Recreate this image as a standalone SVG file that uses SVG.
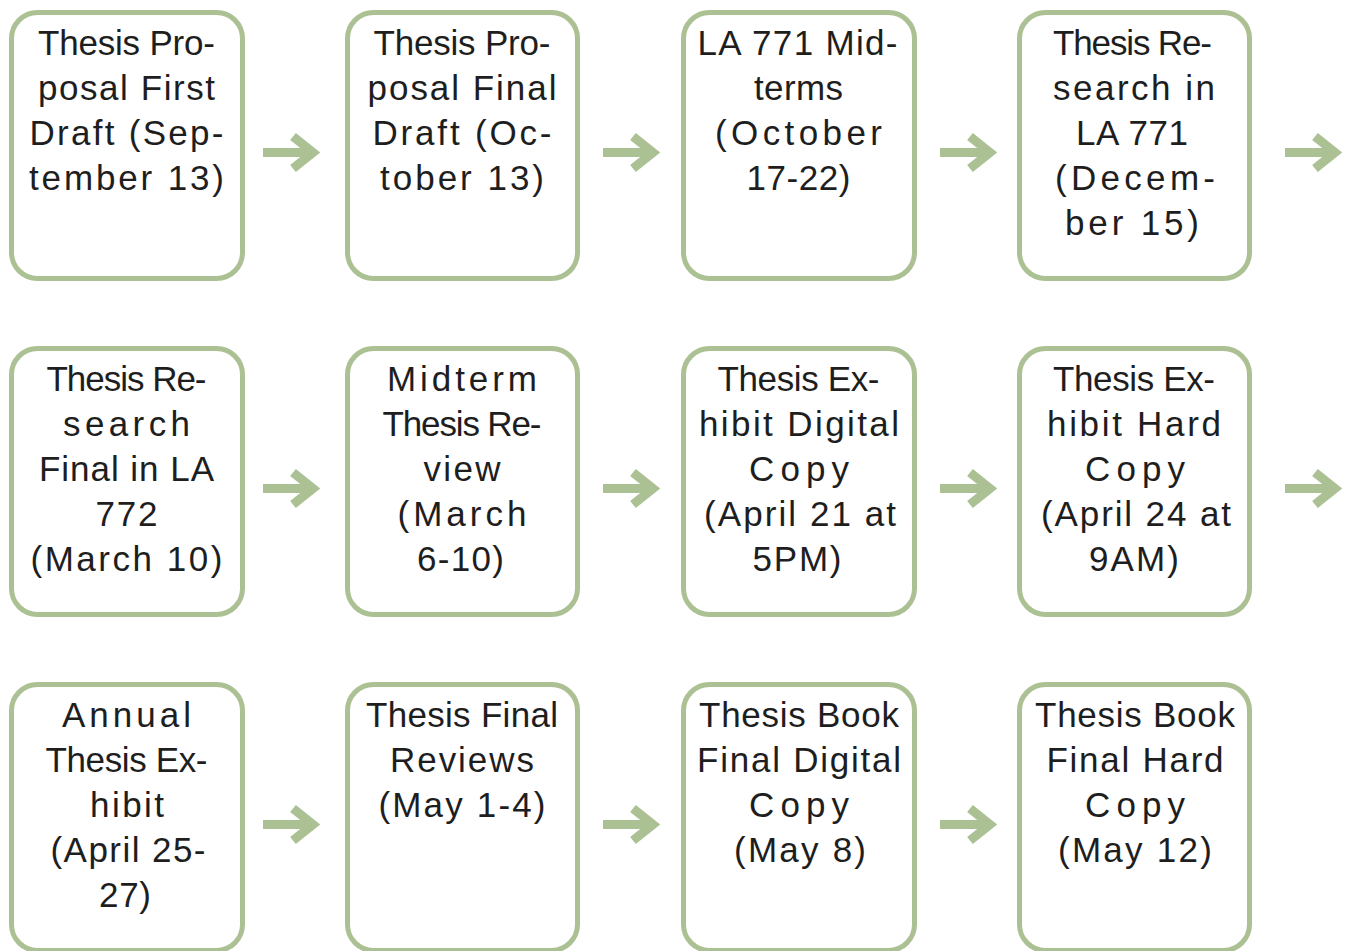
<svg xmlns="http://www.w3.org/2000/svg" width="1352" height="951" viewBox="0 0 1352 951">
<defs>
<style>
.box{fill:#ffffff;stroke:#abc093;stroke-width:5}
.t{font-family:"Liberation Sans",Arial,sans-serif;font-size:35px;fill:#1e1e1e;text-anchor:middle}
.ar{fill:none;stroke:#abc093;stroke-width:9;stroke-linejoin:miter;stroke-miterlimit:4}
</style>
<g id="arrow">
<line x1="0" y1="0" x2="50" y2="0" class="ar"/>
<polyline points="30,-16 50,0 30,16" class="ar"/>
</g>
</defs>
<rect width="1352" height="951" fill="#ffffff"/>
<g id="connectors">
<use href="#arrow" x="263" y="152.5"/>
<use href="#arrow" x="603" y="152.5"/>
<use href="#arrow" x="940" y="152.5"/>
<use href="#arrow" x="1285" y="152.5"/>
<use href="#arrow" x="263" y="488.5"/>
<use href="#arrow" x="603" y="488.5"/>
<use href="#arrow" x="940" y="488.5"/>
<use href="#arrow" x="1285" y="488.5"/>
<use href="#arrow" x="263" y="824.5"/>
<use href="#arrow" x="603" y="824.5"/>
<use href="#arrow" x="940" y="824.5"/>
</g>
<g id="n1"><rect class="box" x="11.5" y="12.5" width="231" height="266" rx="26"/>
<text class="t" x="126.5" y="55" textLength="177" lengthAdjust="spacing">Thesis Pro-</text>
<text class="t" x="126.5" y="100" textLength="177" lengthAdjust="spacing">posal First</text>
<text class="t" x="126.5" y="145" textLength="194" lengthAdjust="spacing">Draft (Sep-</text>
<text class="t" x="126.5" y="190" textLength="195" lengthAdjust="spacing">tember 13)</text></g>
<g id="n2"><rect class="box" x="347.5" y="12.5" width="230" height="266" rx="26"/>
<text class="t" x="462" y="55" textLength="177" lengthAdjust="spacing">Thesis Pro-</text>
<text class="t" x="462" y="100" textLength="189" lengthAdjust="spacing">posal Final</text>
<text class="t" x="462" y="145" textLength="179" lengthAdjust="spacing">Draft (Oc-</text>
<text class="t" x="462" y="190" textLength="164" lengthAdjust="spacing">tober 13)</text></g>
<g id="n3"><rect class="box" x="683.5" y="12.5" width="231" height="266" rx="26"/>
<text class="t" x="797.5" y="55" textLength="200" lengthAdjust="spacing">LA 771 Mid-</text>
<text class="t" x="798.5" y="100" textLength="89" lengthAdjust="spacing">terms</text>
<text class="t" x="798.5" y="145" textLength="167" lengthAdjust="spacing">(October</text>
<text class="t" x="798.5" y="190" textLength="104" lengthAdjust="spacing">17-22)</text></g>
<g id="n4"><rect class="box" x="1019.5" y="12.5" width="230" height="266" rx="26"/>
<text class="t" x="1132.5" y="55" textLength="159" lengthAdjust="spacing">Thesis Re-</text>
<text class="t" x="1134" y="100" textLength="162" lengthAdjust="spacing">search in</text>
<text class="t" x="1132" y="145" textLength="112" lengthAdjust="spacing">LA 771</text>
<text class="t" x="1135" y="190" textLength="160" lengthAdjust="spacing">(Decem-</text>
<text class="t" x="1132" y="235" textLength="134" lengthAdjust="spacing">ber 15)</text></g>
<g id="n5"><rect class="box" x="11.5" y="348.5" width="231" height="266" rx="26"/>
<text class="t" x="126.5" y="391" textLength="160" lengthAdjust="spacing">Thesis Re-</text>
<text class="t" x="126.5" y="436" textLength="127" lengthAdjust="spacing">search</text>
<text class="t" x="126.5" y="481" textLength="175" lengthAdjust="spacing">Final in LA</text>
<text class="t" x="126.5" y="526" textLength="62" lengthAdjust="spacing">772</text>
<text class="t" x="126.5" y="571" textLength="192" lengthAdjust="spacing">(March 10)</text></g>
<g id="n6"><rect class="box" x="347.5" y="348.5" width="230" height="266" rx="26"/>
<text class="t" x="462" y="391" textLength="150" lengthAdjust="spacing">Midterm</text>
<text class="t" x="462" y="436" textLength="159" lengthAdjust="spacing">Thesis Re-</text>
<text class="t" x="462" y="481" textLength="77" lengthAdjust="spacing">view</text>
<text class="t" x="462" y="526" textLength="129" lengthAdjust="spacing">(March</text>
<text class="t" x="460.5" y="571" textLength="87" lengthAdjust="spacing">6-10)</text></g>
<g id="n7"><rect class="box" x="683.5" y="348.5" width="231" height="266" rx="26"/>
<text class="t" x="798.5" y="391" textLength="162" lengthAdjust="spacing">Thesis Ex-</text>
<text class="t" x="799" y="436" textLength="200" lengthAdjust="spacing">hibit Digital</text>
<text class="t" x="799" y="481" textLength="100" lengthAdjust="spacing">Copy</text>
<text class="t" x="800" y="526" textLength="192" lengthAdjust="spacing">(April 21 at</text>
<text class="t" x="797" y="571" textLength="89" lengthAdjust="spacing">5PM)</text></g>
<g id="n8"><rect class="box" x="1019.5" y="348.5" width="230" height="266" rx="26"/>
<text class="t" x="1134" y="391" textLength="162" lengthAdjust="spacing">Thesis Ex-</text>
<text class="t" x="1134" y="436" textLength="174" lengthAdjust="spacing">hibit Hard</text>
<text class="t" x="1135" y="481" textLength="100" lengthAdjust="spacing">Copy</text>
<text class="t" x="1136" y="526" textLength="190" lengthAdjust="spacing">(April 24 at</text>
<text class="t" x="1134" y="571" textLength="90" lengthAdjust="spacing">9AM)</text></g>
<g id="n9"><rect class="box" x="11.5" y="684.5" width="231" height="266" rx="26"/>
<text class="t" x="126.5" y="727" textLength="129" lengthAdjust="spacing">Annual</text>
<text class="t" x="126.5" y="772" textLength="162" lengthAdjust="spacing">Thesis Ex-</text>
<text class="t" x="127" y="817" textLength="74" lengthAdjust="spacing">hibit</text>
<text class="t" x="128" y="862" textLength="155" lengthAdjust="spacing">(April 25-</text>
<text class="t" x="125" y="907" textLength="52" lengthAdjust="spacing">27)</text></g>
<g id="n10"><rect class="box" x="347.5" y="684.5" width="230" height="266" rx="26"/>
<text class="t" x="462" y="727" textLength="192" lengthAdjust="spacing">Thesis Final</text>
<text class="t" x="462" y="772" textLength="144" lengthAdjust="spacing">Reviews</text>
<text class="t" x="462" y="817" textLength="167" lengthAdjust="spacing">(May 1-4)</text></g>
<g id="n11"><rect class="box" x="683.5" y="684.5" width="231" height="266" rx="26"/>
<text class="t" x="799" y="727" textLength="200" lengthAdjust="spacing">Thesis Book</text>
<text class="t" x="799" y="772" textLength="204" lengthAdjust="spacing">Final Digital</text>
<text class="t" x="799" y="817" textLength="100" lengthAdjust="spacing">Copy</text>
<text class="t" x="800" y="862" textLength="132" lengthAdjust="spacing">(May 8)</text></g>
<g id="n12"><rect class="box" x="1019.5" y="684.5" width="230" height="266" rx="26"/>
<text class="t" x="1135" y="727" textLength="200" lengthAdjust="spacing">Thesis Book</text>
<text class="t" x="1135" y="772" textLength="177" lengthAdjust="spacing">Final Hard</text>
<text class="t" x="1135" y="817" textLength="100" lengthAdjust="spacing">Copy</text>
<text class="t" x="1135" y="862" textLength="154" lengthAdjust="spacing">(May 12)</text></g>
</svg>
